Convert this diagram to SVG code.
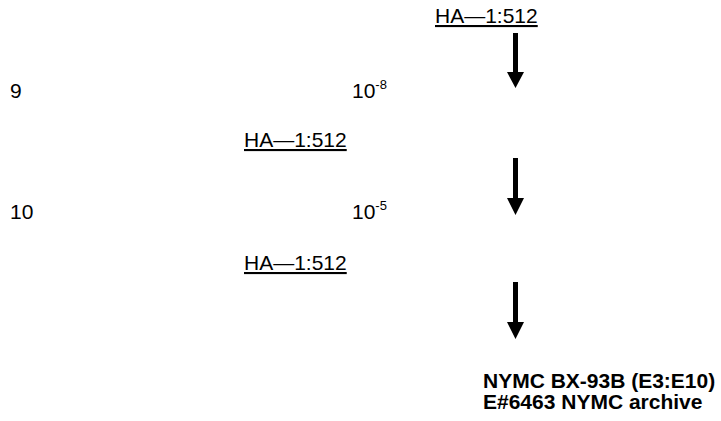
<svg xmlns="http://www.w3.org/2000/svg" width="721" height="421" viewBox="0 0 721 421">
<style>
text{font-family:"Liberation Sans",Arial,sans-serif;font-size:21px;fill:#000}
.u{text-decoration:underline}
.b{font-weight:bold}
.sup{font-size:13px}
</style>
<rect width="721" height="421" fill="#fff"/>
<g id="ha1"><text class="u" x="435" y="23">HA—1:512</text></g>
<g id="row9"><text x="10" y="98">9</text></g>
<g id="d8"><text x="352" y="98">10<tspan class="sup" dy="-9">-8</tspan></text></g>
<g id="ha2"><text class="u" x="244" y="147">HA—1:512</text></g>
<g id="row10"><text x="10" y="219">10</text></g>
<g id="d5"><text x="352" y="219">10<tspan class="sup" dy="-9">-5</tspan></text></g>
<g id="ha3"><text class="u" x="244" y="270">HA—1:512</text></g>
<g id="result"><text class="b" x="483" y="388">NYMC BX-93B (E3:E10)</text><text class="b" x="483" y="409">E#6463 NYMC archive</text></g>
<g id="connectors" fill="#000">
<path d="M513,33 H518 V72 H524 L515.5,88 L507,72 H513 Z"/>
<path d="M513,158 H518 V198 H524 L515.5,215 L507,198 H513 Z"/>
<path d="M513,282 H518 V322 H524 L515.5,339 L507,322 H513 Z"/>
</g>
</svg>
